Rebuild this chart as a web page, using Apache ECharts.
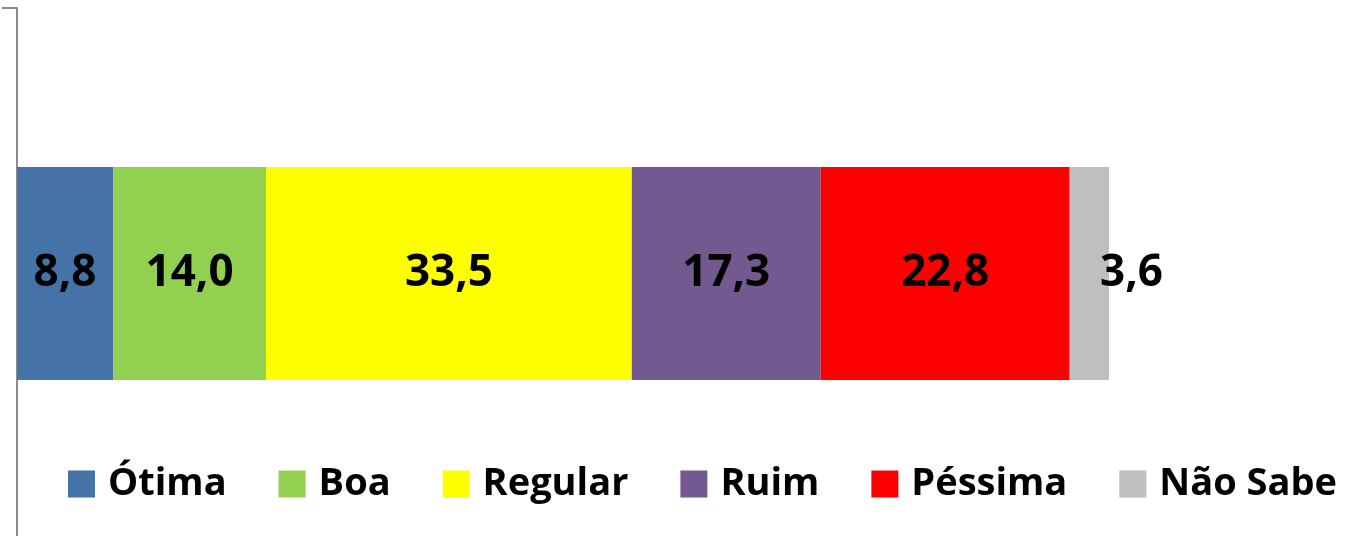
<!DOCTYPE html>
<html>
<head>
<meta charset="utf-8">
<script src="https://cdn.jsdelivr.net/npm/echarts@6/dist/echarts.min.js"></script>
<style>
  html, body { margin: 0; padding: 0; background: #fff; }
  #chart { width: 1351px; height: 536px; }
</style>
</head>
<body>
<div id="chart"></div>
<script>
// avaliação (%)
var names = ['Ótima', 'Boa', 'Regular', 'Ruim', 'Péssima', 'Não Sabe'];
var values = [8.8, 14.0, 33.5, 17.3, 22.8, 3.6];
var colors = ['#4572A7', '#92D050', '#FFFF00', '#725990', '#FF0000', '#BFBFBF'];

var font = '"Open Sans", sans-serif';

var series = names.map(function (n, i) {
  var last = i === names.length - 1;
  return {
    name: n,
    type: 'bar',
    stack: 'total',
    barWidth: 213,
    data: [values[i]],
    itemStyle: { color: colors[i] },
    label: {
      show: true,
      position: last ? 'right' : 'inside',
      distance: 0,
      offset: last ? [-9, 0] : [0, 0],
      formatter: function (p) { return p.value.toFixed(1).replace('.', ','); },
      color: '#000',
      fontFamily: font,
      fontWeight: 'bold',
      fontSize: 44
    }
  };
});

var myChart = echarts.init(document.getElementById('chart'));
myChart.setOption({
  animation: false,
  color: colors,
  grid: { left: 17, right: 242, top: 8, height: 531, outerBoundsMode: 'none' },
  legend: {
    data: names,
    left: 63,
    top: 460,
    icon: 'rect',
    itemWidth: 27,
    itemHeight: 27,
    itemGap: 52,
    textStyle: {
      color: '#000',
      fontFamily: font,
      fontWeight: 'bold',
      fontSize: 38,
      padding: [0, 0, 0, 8]
    }
  },
  xAxis: { type: 'value', min: 0, max: 100, show: false },
  yAxis: {
    type: 'category',
    data: [''],
    axisLine: { show: true, lineStyle: { color: '#8c8c8c', width: 2 } },
    axisTick: { show: true, length: 15, lineStyle: { color: '#8c8c8c', width: 2 } },
    axisLabel: { show: false }
  },
  series: series
});
</script>
</body>
</html>
